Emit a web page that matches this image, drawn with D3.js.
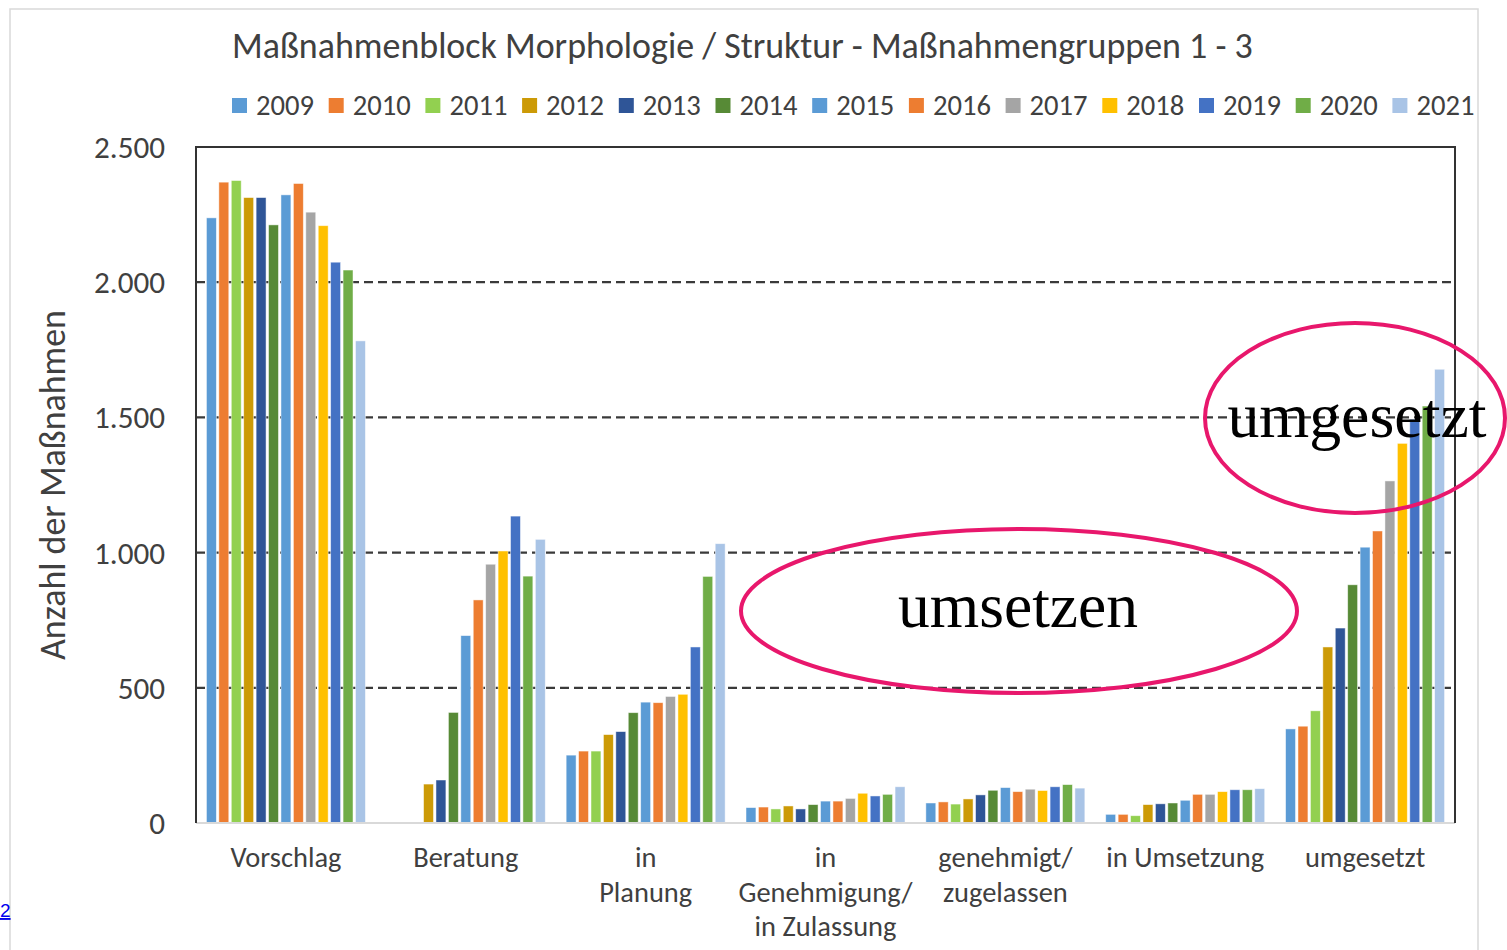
<!DOCTYPE html>
<html>
<head>
<meta charset="utf-8">
<script src="https://cdn.jsdelivr.net/npm/d3@7/dist/d3.min.js"></script>
<style>
  html, body { margin: 0; padding: 0; background: #fff; overflow: hidden; }
  svg { display: block; }
</style>
</head>
<body>
<svg id="chart" width="1507" height="950"></svg>
<script>
// ---------- data ----------
const title = "Maßnahmenblock Morphologie / Struktur - Maßnahmengruppen 1 - 3";
const yAxisTitle = "Anzahl der Maßnahmen";
const categories = ["Vorschlag", "Beratung", "in Planung", "in Genehmigung/ in Zulassung", "genehmigt/ zugelassen", "in Umsetzung", "umgesetzt"];
const categoryLabelLines = [["Vorschlag"], ["Beratung"], ["in", "Planung"], ["in", "Genehmigung/", "in Zulassung"], ["genehmigt/", "zugelassen"], ["in Umsetzung"], ["umgesetzt"]];
const years = ["2009", "2010", "2011", "2012", "2013", "2014", "2015", "2016", "2017", "2018", "2019", "2020", "2021"];
const yearColors = ["#5B9BD5", "#ED7D31", "#92D050", "#CC9A06", "#2F5597", "#578A36", "#5B9BD5", "#ED7D31", "#A5A5A5", "#FFC000", "#4472C4", "#70AD47", "#A9C4E6"];
// values per year, in category order
const v2009 = [2238, 0, 251, 57, 74, 32, 348];
const v2010 = [2370, 0, 266, 59, 78, 32, 358];
const v2011 = [2376, 0, 266, 52, 70, 27, 415];
const v2012 = [2313, 144, 327, 63, 89, 68, 651];
const v2013 = [2313, 159, 338, 52, 104, 71, 721];
const v2014 = [2212, 409, 408, 68, 121, 74, 881];
const v2015 = [2323, 693, 447, 81, 131, 84, 1020];
const v2016 = [2365, 825, 445, 81, 116, 106, 1080];
const v2017 = [2259, 957, 468, 91, 125, 106, 1265];
const v2018 = [2209, 1006, 476, 110, 120, 116, 1404];
const v2019 = [2074, 1135, 651, 100, 134, 123, 1493];
const v2020 = [2045, 913, 912, 106, 142, 123, 1542];
const v2021 = [1783, 1049, 1033, 134, 129, 127, 1678];
const seriesValues = [v2009, v2010, v2011, v2012, v2013, v2014, v2015, v2016, v2017, v2018, v2019, v2020, v2021];
const yTicks = [0, 500, 1000, 1500, 2000, 2500];
const yTickLabels = ["0", "500", "1.000", "1.500", "2.000", "2.500"];
const annotations = ["umsetzen", "umgesetzt"];

// ---------- layout ----------
const svg = d3.select("#chart");
const FONT = "Carlito, Calibri, 'Open Sans', sans-serif";
const TXT = "#404040";
const plot = { left: 196, right: 1455, top: 147, bottom: 823 };

function fitWidth(sel, target) {
  sel.each(function () {
    const el = d3.select(this);
    const fs = parseFloat(el.attr("font-size"));
    const len = this.getComputedTextLength();
    if (len > 0) el.attr("font-size", (fs * target / len).toFixed(2));
  });
}

// outer frame
svg.append("rect").attr("x", 10).attr("y", 9).attr("width", 1468).attr("height", 960)
  .attr("fill", "none").attr("stroke", "#D9D9D9").attr("stroke-width", 1.5);

// stray link fragment at bottom-left
svg.append("text").attr("x", 0).attr("y", 917).attr("font-family", "'Liberation Sans', Arial, sans-serif")
  .attr("font-size", 19).attr("fill", "#0000EE").attr("text-decoration", "underline").text("2");

// scales
const x0 = d3.scaleBand().domain(categories).range([plot.left, plot.right]).paddingInner(0.116).paddingOuter(0.058);
const x1 = d3.scaleBand().domain(years).range([0, x0.bandwidth()]).paddingInner(0.2).paddingOuter(0);
const y = d3.scaleLinear().domain([0, 2500]).range([plot.bottom, plot.top]);

// gridlines
svg.append("g").selectAll("line").data(yTicks.filter(t => t > 0 && t < 2500)).join("line")
  .attr("x1", plot.left).attr("x2", plot.right)
  .attr("y1", d => y(d)).attr("y2", d => y(d))
  .attr("stroke", "#3a3a3a").attr("stroke-width", 2.2).attr("stroke-dasharray", "9,5");

// bars
const gCat = svg.append("g").selectAll("g").data(categories).join("g")
  .attr("transform", d => `translate(${x0(d)},0)`);
gCat.selectAll("rect").data((c, ci) => years.map((yr, si) => ({ yr, si, v: seriesValues[si][ci] })))
  .join("rect")
  .filter(d => d.v > 0)
  .attr("x", d => x1(d.yr)).attr("width", x1.bandwidth())
  .attr("y", d => y(d.v)).attr("height", d => y(0) - y(d.v))
  .attr("fill", d => yearColors[d.si])
  .attr("stroke", "#ffffff").attr("stroke-opacity", 0.6).attr("stroke-width", 0.8);

// plot frame
svg.append("line").attr("x1", plot.left).attr("x2", plot.right).attr("y1", plot.bottom).attr("y2", plot.bottom)
  .attr("stroke", "#D9D9D9").attr("stroke-width", 2);
svg.append("path").attr("d", `M${plot.left},${plot.bottom}V${plot.top}H${plot.right}V${plot.bottom}`)
  .attr("fill", "none").attr("stroke", "#333333").attr("stroke-width", 2);

// y axis labels
const yAxis = d3.axisLeft(y).tickValues(yTicks).tickFormat((d, i) => yTickLabels[i]).tickSize(0).tickPadding(31);
const gy = svg.append("g").attr("transform", `translate(${plot.left},0)`).call(yAxis);
gy.select(".domain").remove();
gy.selectAll("text").attr("font-family", FONT).attr("font-size", 28).attr("fill", TXT).attr("dy", "0.34em");
{
  const ref = gy.selectAll("text").filter(d => d === 2500);
  const len = ref.node().getComputedTextLength();
  gy.selectAll("text").attr("font-size", (28 * 71 / len).toFixed(2));
}

// y axis title
const yt = svg.append("text").attr("transform", "translate(65,485) rotate(-90)")
  .attr("text-anchor", "middle").attr("font-family", FONT).attr("font-size", 28).attr("fill", TXT).text(yAxisTitle);
fitWidth(yt, 350);

// category labels
const catLabels = svg.append("g").selectAll("text").data(categories).join("text")
  .attr("text-anchor", "middle").attr("font-family", FONT).attr("font-size", 24).attr("fill", TXT)
  .attr("transform", d => `translate(${x0(d) + x0.bandwidth() / 2},867)`);
catLabels.selectAll("tspan").data((d, i) => categoryLabelLines[i]).join("tspan")
  .attr("x", 0).attr("y", (d, i) => i * 34.5).text(d => d);
{
  const ref = catLabels.filter(d => d === "Vorschlag").node();
  const len = ref.getComputedTextLength();
  catLabels.attr("font-size", (24 * 111 / len).toFixed(2));
}

// title
const tt = svg.append("text").attr("x", 232).attr("y", 58).attr("font-family", FONT)
  .attr("font-size", 30).attr("fill", TXT).text(title);
fitWidth(tt, 1021);

// legend
const legStep = 96.7;
const leg = svg.append("g").selectAll("g").data(years).join("g")
  .attr("transform", (d, i) => `translate(${232 + i * legStep},0)`);
leg.append("rect").attr("x", 0).attr("y", 98).attr("width", 15).attr("height", 15)
  .attr("fill", (d, i) => yearColors[i]);
const legText = leg.append("text").attr("x", 24).attr("y", 115).attr("font-family", FONT)
  .attr("font-size", 26).attr("fill", TXT).text(d => d);
{
  const len = legText.node().getComputedTextLength();
  legText.attr("font-size", (26 * 58 / len).toFixed(2));
}

// annotation overlays
const PINK = "#E8176C";
svg.append("ellipse").attr("cx", 1019).attr("cy", 611).attr("rx", 278).attr("ry", 82)
  .attr("fill", "none").attr("stroke", PINK).attr("stroke-width", 4);
svg.append("ellipse").attr("cx", 1355).attr("cy", 418).attr("rx", 150).attr("ry", 95)
  .attr("fill", "none").attr("stroke", PINK).attr("stroke-width", 4);
const a1 = svg.append("text").attr("x", 1018).attr("y", 627).attr("text-anchor", "middle")
  .attr("font-family", "'Liberation Serif', 'Times New Roman', serif").attr("font-size", 63).attr("fill", "#000").text(annotations[0]);
fitWidth(a1, 240);
const a2 = svg.append("text").attr("x", 1357).attr("y", 437).attr("text-anchor", "middle")
  .attr("font-family", "'Liberation Serif', 'Times New Roman', serif").attr("font-size", 63).attr("fill", "#000").text(annotations[1]);
fitWidth(a2, 259);
</script>
</body>
</html>
